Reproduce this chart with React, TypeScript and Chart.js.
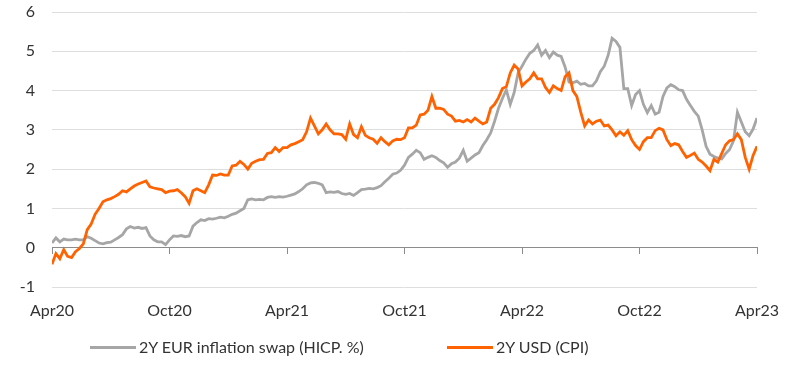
import React, { useEffect, useRef } from "react";
import { Chart, registerables } from "chart.js";

Chart.register(...registerables);

// x axis: months since Apr 2020, one sample every 1/5 month
const SAMPLES_PER_MONTH = 5;
const TICK_LABELS = ["Apr20", "Oct20", "Apr21", "Oct21", "Apr22", "Oct22", "Apr23"];
const TICK_STEP_MONTHS = 6;

const SERIES_NAMES = ["2Y EUR inflation swap (HICP. %)", "2Y USD (CPI)"];

const EUR_SWAP = [
  0.12, 0.25, 0.15, 0.22, 0.2, 0.2, 0.22, 0.2, 0.2, 0.28,
  0.24, 0.18, 0.12, 0.1, 0.13, 0.14, 0.2, 0.26, 0.33, 0.48,
  0.54, 0.5, 0.52, 0.49, 0.51, 0.3, 0.2, 0.15, 0.15, 0.08,
  0.2, 0.3, 0.29, 0.31, 0.28, 0.3, 0.55, 0.64, 0.71, 0.69,
  0.74, 0.73, 0.75, 0.78, 0.76, 0.8, 0.85, 0.88, 0.94, 1.0,
  1.22, 1.24, 1.22, 1.23, 1.22, 1.28, 1.3, 1.28, 1.3, 1.29,
  1.31, 1.34, 1.37, 1.43, 1.5, 1.6, 1.65, 1.66, 1.64, 1.6,
  1.4, 1.42, 1.41, 1.43, 1.38, 1.36, 1.38, 1.33, 1.4, 1.48,
  1.49, 1.51, 1.5, 1.53, 1.58, 1.68, 1.77, 1.87, 1.9, 1.97,
  2.1, 2.3, 2.38, 2.48, 2.42, 2.25, 2.3, 2.34, 2.3, 2.22,
  2.16, 2.05, 2.14, 2.18, 2.28, 2.48, 2.2, 2.28, 2.36, 2.42,
  2.6, 2.75, 2.92, 3.22, 3.55, 3.8, 4.02, 3.65, 3.95, 4.45,
  4.62, 4.8, 4.95, 5.02, 5.16, 4.9, 5.02, 4.84, 4.98, 4.9,
  4.87, 4.6, 4.22, 4.2, 4.24, 4.16, 4.18, 4.12, 4.12, 4.25,
  4.48, 4.62, 4.9, 5.33, 5.25, 5.1, 4.05, 4.05, 3.62, 3.9,
  4.0, 3.65, 3.44, 3.62, 3.4, 3.45, 3.85, 4.07, 4.15, 4.1,
  4.02, 4.0, 3.78, 3.62, 3.47, 3.35, 3.0, 2.58, 2.38, 2.32,
  2.28, 2.26, 2.4, 2.5, 2.72, 3.45, 3.2, 2.95, 2.85, 3.02,
  3.3,
];

const USD_CPI = [
  -0.42, -0.15, -0.28, -0.05, -0.22, -0.25, -0.1, -0.02, 0.1, 0.46,
  0.6, 0.85, 1.0, 1.17, 1.22, 1.25, 1.3, 1.36, 1.45, 1.42,
  1.5, 1.57, 1.62, 1.66, 1.7, 1.55, 1.52, 1.5, 1.48, 1.4,
  1.44, 1.45, 1.48, 1.4, 1.3, 1.13, 1.45, 1.5, 1.45, 1.4,
  1.6, 1.85, 1.84, 1.88, 1.85, 1.85, 2.08, 2.1, 2.2, 2.12,
  2.0, 2.15, 2.2, 2.24, 2.25, 2.4, 2.42, 2.55, 2.45, 2.55,
  2.55, 2.62, 2.65, 2.7, 2.75, 2.95, 3.3, 3.1, 2.9, 3.0,
  3.15, 3.0, 2.9, 2.9, 2.88, 2.76, 3.15, 2.88, 2.8, 3.08,
  2.86, 2.8, 2.76, 2.66, 2.8, 2.7, 2.62, 2.72, 2.76, 2.75,
  2.8, 3.05, 3.05, 3.12, 3.38, 3.4, 3.5, 3.85, 3.55, 3.55,
  3.52, 3.4, 3.35, 3.22, 3.24, 3.2, 3.26, 3.2, 3.3, 3.22,
  3.15, 3.2, 3.55, 3.65, 3.82, 4.05, 4.1, 4.45, 4.65, 4.55,
  4.12, 4.22, 4.3, 4.45, 4.3, 4.3, 4.08, 3.95, 4.12, 4.05,
  4.0, 4.35, 4.45, 4.0, 3.85, 3.45, 3.1, 3.25, 3.15, 3.22,
  3.25, 3.1, 3.12, 3.0, 2.85, 2.95, 2.86, 2.98, 2.75, 2.6,
  2.5, 2.7, 2.8, 2.8, 2.98, 3.04, 3.0, 2.75, 2.6, 2.65,
  2.62, 2.45, 2.3, 2.35, 2.41, 2.25, 2.18, 2.08, 1.96, 2.25,
  2.18, 2.4, 2.62, 2.72, 2.75, 2.9, 2.75, 2.3, 2.0, 2.35,
  2.58,
];

const Y_MIN = -1;
const Y_MAX = 6;

const GREY = "#a6a6a6";
const ORANGE = "#ff6200";
const TEXT = "#333333";
const FONT = "Lato, 'Noto Sans', sans-serif";

const toPoints = (vals: number[]) =>
  vals.map((v, i) => ({ x: i / SAMPLES_PER_MONTH, y: v }));

export default function App() {
  const ref = useRef<HTMLCanvasElement | null>(null);

  useEffect(() => {
    if (!ref.current) return;
    const xMax = (TICK_LABELS.length - 1) * TICK_STEP_MONTHS;
    const chart = new Chart(ref.current, {
      type: "line",
      data: {
        datasets: [
          {
            label: SERIES_NAMES[0],
            data: toPoints(EUR_SWAP),
            borderColor: GREY,
            backgroundColor: GREY,
            borderWidth: 2.8,
            pointRadius: 0,
            tension: 0,
            order: 2,
          },
          {
            label: SERIES_NAMES[1],
            data: toPoints(USD_CPI),
            borderColor: ORANGE,
            backgroundColor: ORANGE,
            borderWidth: 2.8,
            pointRadius: 0,
            tension: 0,
            order: 1,
          },
        ],
      },
      options: {
        animation: false,
        responsive: false,
        layout: { padding: { top: 12, left: 12, right: 43, bottom: 52 } },
        plugins: {
          legend: { display: false },
          tooltip: { enabled: false },
        },
        scales: {
          x: {
            type: "linear",
            position: "bottom",
            min: 0,
            max: xMax,
            grid: { display: false, drawTicks: false },
            border: { display: false },
            ticks: {
              stepSize: TICK_STEP_MONTHS,
              autoSkip: false,
              maxRotation: 0,
              padding: 14,
              color: TEXT,
              font: { family: FONT, size: 16 },
              callback: (v: any) => TICK_LABELS[Math.round(Number(v) / TICK_STEP_MONTHS)] ?? "",
            },
            afterFit: (s: any) => {
              s.height = 33;
            },
          },
          xZero: {
            type: "linear",
            axis: "x",
            position: { y: 0 },
            min: 0,
            max: xMax,
            grid: {
              drawOnChartArea: false,
              drawTicks: true,
              tickLength: 6,
              color: "#8c8c8c",
              lineWidth: 1,
            },
            border: { display: true, color: "#8c8c8c", width: 1 },
            ticks: { stepSize: TICK_STEP_MONTHS, display: false, autoSkip: false },
            afterFit: (s: any) => {
              s.height = 0;
            },
          },
          y: {
            min: Y_MIN,
            max: Y_MAX,
            grid: { color: "#dedede", lineWidth: 1, drawTicks: false },
            border: { display: false },
            ticks: {
              stepSize: 1,
              padding: 17,
              color: TEXT,
              font: { family: FONT, size: 16 },
            },
            afterFit: (s: any) => {
              s.width = 40;
              s.paddingTop = 0;
              s.paddingBottom = 0;
            },
          },
        },
      } as any,
    });
    return () => chart.destroy();
  }, []);

  const legendItem = (name: string, color: string, left: number) => (
    <div
      style={{
        position: "absolute",
        left,
        top: 337,
        display: "flex",
        alignItems: "center",
        whiteSpace: "nowrap",
      }}
    >
      <span style={{ display: "inline-block", width: 46, height: 3, background: color, marginRight: 3 }} />
      <span style={{ fontFamily: FONT, fontSize: 16, color: TEXT, lineHeight: "20px" }}>{name}</span>
    </div>
  );

  return (
    <div style={{ position: "fixed", left: 0, top: 0, width: 800, height: 372, background: "#fff" }}>
      <canvas ref={ref} width={800} height={372} style={{ display: "block" }} />
      {legendItem(SERIES_NAMES[0], GREY, 90)}
      {legendItem(SERIES_NAMES[1], ORANGE, 447)}
    </div>
  );
}
